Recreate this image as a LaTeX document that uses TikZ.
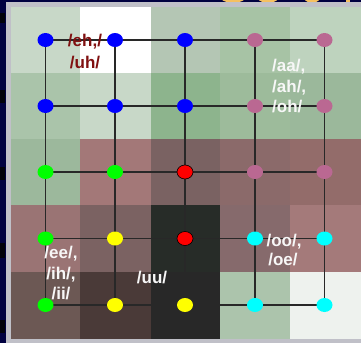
\documentclass[tikz,border=0pt]{standalone}
\usepackage{fontspec}
\setmainfont{Liberation Sans}
\usetikzlibrary{shapes.geometric}
\definecolor{navy}{RGB}{0,0,64}
\definecolor{framegray}{RGB}{192,192,200}
\definecolor{gridline}{RGB}{40,40,40}
\definecolor{mauve}{RGB}{186,104,146}
\definecolor{dotblue}{RGB}{0,0,255}
\definecolor{dotgreen}{RGB}{0,255,0}
\definecolor{dotred}{RGB}{255,0,0}
\definecolor{dotyellow}{RGB}{255,255,0}
\definecolor{dotcyan}{RGB}{0,255,255}
\definecolor{labelred}{RGB}{128,16,16}
\definecolor{titleyellow}{RGB}{245,192,96}
\pgfdeclarelayer{cells}
\pgfdeclarelayer{grid}
\pgfsetlayers{cells,grid,main}
\begin{document}
\begin{tikzpicture}[x=1pt,y=-1pt,
  dot/.style={ellipse, minimum width=16pt, minimum height=14pt, inner sep=0pt, fill=#1},
  rdot/.style={dot=dotred, draw=black, line width=0.6pt},
  gline/.style={draw=gridline, line width=1.3pt},
  lbl/.style={font=\fontsize{17}{21}\selectfont\bfseries, inner sep=0pt, text=white!94!gray},
  lblred/.style={lbl, text=labelred}]
\useasboundingbox (0,0) rectangle (361,343);

\begin{pgfonlayer}{cells}
  % dark slide background and light frame
  \fill[navy] (0,0) rectangle (361,343);
  \foreach \ya/\yb in {13/23, 90/103, 167/180, 243/258, 320/333}
    \fill[black!85!navy] (0,\ya) rectangle (5,\yb);
  \begin{scope}
    \clip (6,0) rectangle (361,2.2);
    \draw[titleyellow, line width=3pt] (233,-6) ellipse [x radius=13, y radius=7.5];
    \draw[titleyellow, line width=3pt] (268,-6) ellipse [x radius=11, y radius=7.5];
    \draw[titleyellow, line width=3pt] (312,-6) ellipse [x radius=8, y radius=7.5];
    \fill[titleyellow] (346,-2) rectangle (350,3);
  \end{scope}
  \fill[framegray] (6,2) rectangle (361,343);
  % colour cells, row by row
  \foreach \ya/\yb/\ca/\cb/\cc/\cd/\ce in {
      7/73/C8D8C8/FFFFFF/B4C6B4/A7C3A5/BED3BE,
      73/139/AAC4AA/C8D8C8/8DB48D/9DBB9B/9BB89B,
      139/205/9CB89C/A37878/7A6262/8B6A6A/936C6A,
      205/272/9A7474/7B6262/272C28/866A6C/A47A7A,
      272/339/6C5854/4A3A38/282828/ACC4AC/EEF2EE} {
    \definecolor{ca}{HTML}{\ca}\definecolor{cb}{HTML}{\cb}
    \definecolor{cc}{HTML}{\cc}\definecolor{cd}{HTML}{\cd}
    \definecolor{ce}{HTML}{\ce}
    \fill[ca] (11,\ya) rectangle (80,\yb);
    \fill[cb] (80,\ya) rectangle (151,\yb);
    \fill[cc] (151,\ya) rectangle (220,\yb);
    \fill[cd] (220,\ya) rectangle (290,\yb);
    \fill[ce] (290,\ya) rectangle (361,\yb);
  }
\end{pgfonlayer}

% dots
\node[dot=dotblue]   (d11) at (45.5,40) {};
\node[dot=dotblue]   (d12) at (115,40)  {};
\node[dot=dotblue]   (d13) at (185,40)  {};
\node[dot=mauve]     (d14) at (255,40)  {};
\node[dot=mauve]     (d15) at (324.5,40) {};
\node[dot=dotblue]   (d21) at (45.5,106) {};
\node[dot=dotblue]   (d22) at (115,106) {};
\node[dot=dotblue]   (d23) at (185,106) {};
\node[dot=mauve]     (d24) at (255,106) {};
\node[dot=mauve]     (d25) at (324.5,106) {};
\node[dot=dotgreen]  (d31) at (45.5,172) {};
\node[dot=dotgreen]  (d32) at (115,172) {};
\node[rdot]          (d33) at (185,172) {};
\node[dot=mauve]     (d34) at (255,172) {};
\node[dot=mauve]     (d35) at (324.5,172) {};
\node[dot=dotgreen]  (d41) at (45.5,238.5) {};
\node[dot=dotyellow] (d42) at (115,238.5) {};
\node[rdot]          (d43) at (185,238.5) {};
\node[dot=dotcyan]   (d44) at (255,238.5) {};
\node[dot=dotcyan]   (d45) at (324.5,238.5) {};
\node[dot=dotgreen]  (d51) at (45.5,305) {};
\node[dot=dotyellow] (d52) at (115,305) {};
\node[dot=dotyellow] (d53) at (185,305) {};
\node[dot=dotcyan]   (d54) at (255,305) {};
\node[dot=dotcyan]   (d55) at (324.5,305) {};

% grid lines through the dot centres
\begin{pgfonlayer}{grid}
  \foreach \r in {1,...,5}
    \draw[gline] (d\r1.center) -- (d\r5.center);
  \foreach \c in {1,...,5}
    \draw[gline] (d1\c.center) -- (d5\c.center);
\end{pgfonlayer}

% vowel labels
\node[lblred, anchor=base] (ehA) at (85,46) {/eh,/};
\node[lblred, anchor=base] (ehB) at (85,68) {/uh/};
\node[lbl, anchor=base west] (aaA) at (272,71)  {/aa/,};
\node[lbl, anchor=base west] (aaB) at (272,92)  {/ah/,};
\node[lbl, anchor=base west] (aaC) at (272,112) {/oh/};
\node[lbl, anchor=base] (eeA) at (61,258) {/ee/,};
\node[lbl, anchor=base] (eeB) at (61,279) {/ih/,};
\node[lbl, anchor=base] (eeC) at (61,299) {/ii/};
\node[lbl, anchor=base] (uu)  at (152,283) {/uu/};
\node[lbl, anchor=base] (ooA) at (284,246) {/oo/,};
\node[lbl, anchor=base] (ooB) at (283,265) {/oe/};
\end{tikzpicture}
\end{document}
